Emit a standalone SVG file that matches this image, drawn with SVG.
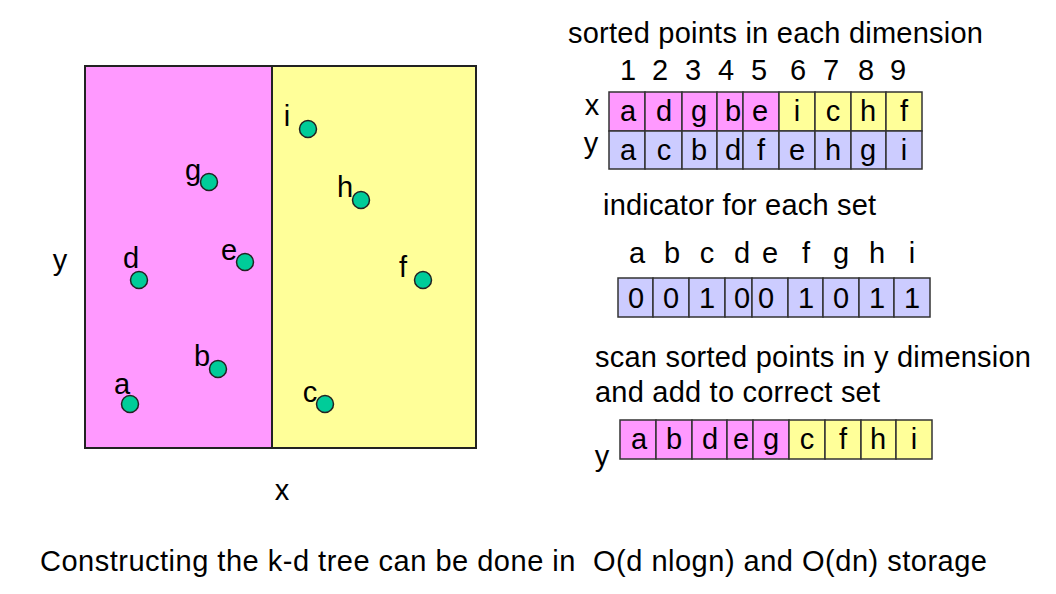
<svg xmlns="http://www.w3.org/2000/svg" width="1056" height="594" viewBox="0 0 1056 594">
  <style>
    text { font-family: "Liberation Sans", Arial, sans-serif; font-size: 29px; fill: #000; }
    .c { text-anchor: middle; }
    .pink { fill: #FF99FF; }
    .yellow { fill: #FFFF99; }
    .lav { fill: #CCCCFF; }
    .cell { stroke: #333; stroke-width: 1.5; }
    .pt { fill: #00CC99; stroke: #222; stroke-width: 1.5; }
  </style>
  <rect width="1056" height="594" fill="#fff"/>

  <!-- partitioned plane -->
  <g id="plane">
    <rect x="85" y="66" width="187" height="382" class="pink"/>
    <rect x="272" y="66" width="204" height="382" class="yellow"/>
    <rect x="85" y="66" width="391" height="382" fill="none" stroke="#222" stroke-width="2"/>
    <line x1="272" y1="66" x2="272" y2="448" stroke="#222" stroke-width="2"/>
    <text x="60" y="270" class="c">y</text>
    <text x="282" y="500" class="c">x</text>
  </g>

  <!-- points -->
  <g id="point-a"><circle cx="130" cy="404" r="8.5" class="pt"/><text x="122" y="394" class="c">a</text></g>
  <g id="point-b"><circle cx="218" cy="369" r="8.5" class="pt"/><text x="202" y="366" class="c">b</text></g>
  <g id="point-c"><circle cx="325" cy="404" r="8.5" class="pt"/><text x="310" y="402" class="c">c</text></g>
  <g id="point-d"><circle cx="139" cy="280" r="8.5" class="pt"/><text x="131" y="268" class="c">d</text></g>
  <g id="point-e"><circle cx="245" cy="262" r="8.5" class="pt"/><text x="229" y="260" class="c">e</text></g>
  <g id="point-f"><circle cx="423" cy="280" r="8.5" class="pt"/><text x="403" y="277" class="c">f</text></g>
  <g id="point-g"><circle cx="209" cy="182" r="8.5" class="pt"/><text x="193" y="180" class="c">g</text></g>
  <g id="point-h"><circle cx="361" cy="200" r="8.5" class="pt"/><text x="345" y="197" class="c">h</text></g>
  <g id="point-i"><circle cx="308" cy="129" r="8.5" class="pt"/><text x="287" y="126" class="c">i</text></g>

  <!-- sorted points table -->
  <g id="sorted-table">
    <text x="568" y="43" textLength="415">sorted points in each dimension</text>
    <g class="c">
      <text x="628" y="80">1</text><text x="660" y="80">2</text><text x="693" y="80">3</text>
      <text x="726" y="80">4</text><text x="759" y="80">5</text><text x="798" y="80">6</text>
      <text x="831" y="80">7</text><text x="866" y="80">8</text><text x="898" y="80">9</text>
    </g>
    <text x="592" y="115" class="c">x</text>
    <text x="591" y="153" class="c">y</text>
    <g class="cell">
      <rect x="609" y="92" width="36" height="39" class="pink"/>
      <rect x="645" y="92" width="37" height="39" class="pink"/>
      <rect x="682" y="92" width="35" height="39" class="pink"/>
      <rect x="717" y="92" width="26" height="39" class="pink"/>
      <rect x="743" y="92" width="36" height="39" class="pink"/>
      <rect x="779" y="92" width="36" height="39" class="yellow"/>
      <rect x="815" y="92" width="36" height="39" class="yellow"/>
      <rect x="851" y="92" width="35" height="39" class="yellow"/>
      <rect x="886" y="92" width="36" height="39" class="yellow"/>
      <rect x="609" y="131" width="36" height="38" class="lav"/>
      <rect x="645" y="131" width="37" height="38" class="lav"/>
      <rect x="682" y="131" width="35" height="38" class="lav"/>
      <rect x="717" y="131" width="26" height="38" class="lav"/>
      <rect x="743" y="131" width="36" height="38" class="lav"/>
      <rect x="779" y="131" width="36" height="38" class="lav"/>
      <rect x="815" y="131" width="36" height="38" class="lav"/>
      <rect x="851" y="131" width="35" height="38" class="lav"/>
      <rect x="886" y="131" width="36" height="38" class="lav"/>
    </g>
    <g class="c">
      <text x="628" y="121">a</text><text x="664" y="121">d</text><text x="699" y="121">g</text>
      <text x="733" y="121">b</text><text x="760" y="121">e</text><text x="797" y="121">i</text>
      <text x="833" y="121">c</text><text x="868" y="121">h</text><text x="904" y="121">f</text>
      <text x="628" y="160">a</text><text x="664" y="160">c</text><text x="699" y="160">b</text>
      <text x="733" y="160">d</text><text x="761" y="160">f</text><text x="797" y="160">e</text>
      <text x="833" y="160">h</text><text x="868" y="160">g</text><text x="904" y="160">i</text>
    </g>
  </g>

  <!-- indicator array -->
  <g id="indicator">
    <text x="603" y="215" textLength="273">indicator for each set</text>
    <g class="c">
      <text x="637" y="263">a</text><text x="672" y="263">b</text><text x="707" y="263">c</text>
      <text x="742" y="263">d</text><text x="770" y="263">e</text><text x="806" y="263">f</text>
      <text x="841" y="263">g</text><text x="877" y="263">h</text><text x="912" y="263">i</text>
    </g>
    <g class="cell">
      <rect x="618" y="278" width="35" height="39" class="lav"/>
      <rect x="653" y="278" width="36" height="39" class="lav"/>
      <rect x="689" y="278" width="36" height="39" class="lav"/>
      <rect x="725" y="278" width="27" height="39" class="lav"/>
      <rect x="752" y="278" width="36" height="39" class="lav"/>
      <rect x="788" y="278" width="35" height="39" class="lav"/>
      <rect x="823" y="278" width="36" height="39" class="lav"/>
      <rect x="859" y="278" width="35" height="39" class="lav"/>
      <rect x="894" y="278" width="36" height="39" class="lav"/>
    </g>
    <g class="c">
      <text x="636" y="308">0</text><text x="671" y="308">0</text><text x="707" y="308">1</text>
      <text x="742" y="308">0</text><text x="766" y="308">0</text><text x="806" y="308">1</text>
      <text x="841" y="308">0</text><text x="877" y="308">1</text><text x="912" y="308">1</text>
    </g>
  </g>

  <!-- scan result -->
  <g id="scan">
    <text x="595" y="367" textLength="436">scan sorted points in y dimension</text>
    <text x="595" y="402" textLength="285">and add to correct set</text>
    <text x="602" y="466" class="c">y</text>
    <g class="cell">
      <rect x="620" y="420" width="36" height="39" class="pink"/>
      <rect x="656" y="420" width="36" height="39" class="pink"/>
      <rect x="692" y="420" width="35" height="39" class="pink"/>
      <rect x="727" y="420" width="26" height="39" class="pink"/>
      <rect x="753" y="420" width="36" height="39" class="pink"/>
      <rect x="789" y="420" width="36" height="39" class="yellow"/>
      <rect x="825" y="420" width="36" height="39" class="yellow"/>
      <rect x="861" y="420" width="35" height="39" class="yellow"/>
      <rect x="896" y="420" width="36" height="39" class="yellow"/>
    </g>
    <g class="c">
      <text x="639" y="449">a</text><text x="674" y="449">b</text><text x="710" y="449">d</text>
      <text x="741" y="449">e</text><text x="771" y="449">g</text><text x="807" y="449">c</text>
      <text x="843" y="449">f</text><text x="878" y="449">h</text><text x="914" y="449">i</text>
    </g>
  </g>

  <text x="40" y="571" xml:space="preserve" textLength="947">Constructing the k-d tree can be done in  O(d nlogn) and O(dn) storage</text>
</svg>
